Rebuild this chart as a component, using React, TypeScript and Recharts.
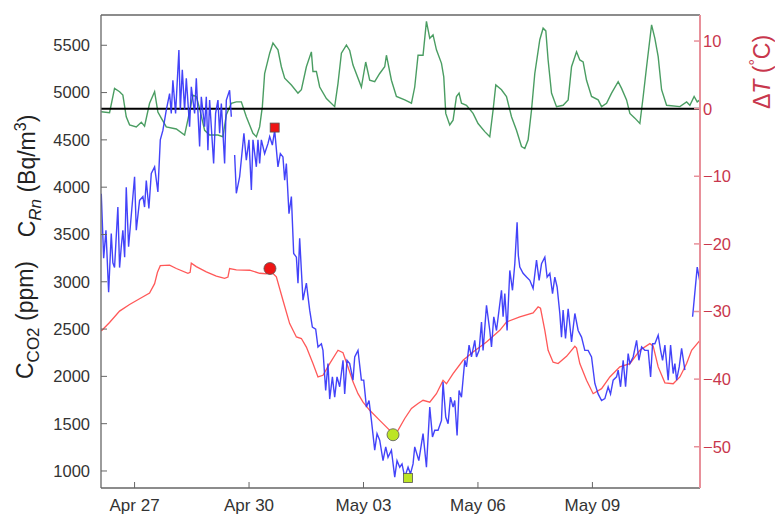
import React from "react";
import { ComposedChart, Line, XAxis, YAxis, ReferenceLine, ReferenceDot } from "recharts";

const FONT = '"Liberation Sans", Arial, Helvetica, sans-serif';

// x values are days counted from Apr 26 00:00
const dateTicks = [1, 4, 7, 10, 13];
const dateLabels = ["Apr 27", "Apr 30", "May 03", "May 06", "May 09"];
const concTicks = [1000, 1500, 2000, 2500, 3000, 3500, 4000, 4500, 5000, 5500];
const dtTicks = [-50, -40, -30, -20, -10, 0, 10];

// radon concentration C_Rn (Bq/m3), null = gap in record
const radon: [number, number | null][] = [
  [0.127, 3930], [0.19, 3250], [0.25, 3545], [0.32, 2890], [0.389, 3510], [0.431, 3200], [0.475, 3150],
  [0.562, 3790], [0.607, 3150], [0.651, 3370], [0.693, 3545], [0.74, 3260], [0.782, 4000], [0.843, 3370],
  [1.0, 4110], [1.045, 3545], [1.131, 3860], [1.218, 3900], [1.262, 3790], [1.307, 4070], [1.375, 3775],
  [1.438, 4145], [1.525, 4215], [1.611, 3950], [1.674, 4500], [1.742, 4600], [1.831, 4815], [1.918, 4990],
  [1.962, 4780], [2.004, 5130], [2.075, 4780], [2.162, 5450], [2.199, 4815], [2.251, 5240], [2.311, 4815],
  [2.356, 5150], [2.442, 4640], [2.487, 5060], [2.574, 4780], [2.618, 5150], [2.705, 4430], [2.749, 4955],
  [2.836, 4640], [2.88, 4955], [2.922, 4390], [2.967, 4920], [3.072, 4250], [3.124, 4780], [3.185, 4920],
  [3.229, 4570], [3.274, 4885], [3.36, 4250], [3.405, 4920], [3.491, 5025], [3.536, 4745], [3.58, null],
  [3.623, 4340], [3.667, 3935], [3.754, 4110], [3.866, 4570], [3.929, 4285], [3.998, 4500], [4.061, 3970],
  [4.103, 4500], [4.192, 4215], [4.234, 4500], [4.278, 4250], [4.323, 4500], [4.409, 4355], [4.496, 4460],
  [4.541, 4535], [4.611, 4445], [4.672, 4600], [4.758, 4215], [4.821, 4355], [4.889, 4320], [4.934, 4075],
  [4.978, 4250], [5.047, 3720], [5.11, 3900], [5.17, 3300], [5.241, 3260], [5.283, 2985], [5.327, 3460],
  [5.372, 3120], [5.414, 2805], [5.503, 2985], [5.59, 2700], [5.66, 2520], [5.747, 2500], [5.807, 2310],
  [5.896, 2345], [5.938, 2275], [6.009, 1850], [6.069, 2135], [6.114, 1760], [6.185, 1995], [6.245, 1780],
  [6.306, 1995], [6.376, 1890], [6.463, 2170], [6.507, 1815], [6.568, 2170], [6.639, 2135], [6.725, 1960],
  [6.77, 2205], [6.856, 2275], [6.945, 1960], [7.006, 1960], [7.077, 1675], [7.145, 1745], [7.208, 1535],
  [7.294, 1220], [7.355, 1395], [7.425, 1325], [7.512, 1110], [7.583, 1255], [7.643, 1145], [7.732, 1220],
  [7.819, 935], [7.879, 1110], [7.95, 1040], [8.01, 1075], [8.081, 935], [8.168, 1040], [8.231, 970],
  [8.299, 1075], [8.343, 1255], [8.45, 1110], [8.561, 1395], [8.65, 1040], [8.737, 1675], [8.808, 1360],
  [8.868, 1430], [8.954, 1430], [9.044, 1535], [9.085, 1940], [9.156, 1570], [9.217, 1500], [9.28, 1780],
  [9.348, 1675], [9.392, 1745], [9.453, 1375], [9.505, 1850], [9.568, 1780], [9.655, 2170], [9.699, 2100],
  [9.767, 2330], [9.83, 2205], [9.917, 2380], [9.961, 2205], [10.03, 2275], [10.093, 2575], [10.134, 2275],
  [10.224, 2750], [10.31, 2485], [10.355, 2310], [10.415, 2630], [10.486, 2485], [10.617, 2910],
  [10.659, 2630], [10.704, 2875], [10.764, 2485], [10.835, 3120], [10.905, 2910], [10.966, 3190],
  [11.026, 3630], [11.058, 3280], [11.097, 3155], [11.183, 3090], [11.273, 3050], [11.359, 3015],
  [11.446, 2930], [11.535, 3230], [11.603, 3015], [11.666, 3190], [11.753, 3260], [11.813, 3050],
  [11.884, 3090], [11.955, 2875], [12.015, 3050], [12.075, 2945], [12.146, 2665], [12.19, 2415],
  [12.232, 2700], [12.295, 2400], [12.364, 2715], [12.453, 2365], [12.54, 2665], [12.626, 2485],
  [12.715, 2415], [12.801, 2275], [12.888, 2275], [12.977, 2205], [13.064, 1925], [13.15, 1815],
  [13.24, 1745], [13.326, 1765], [13.413, 1890], [13.475, 1815], [13.544, 1960], [13.633, 1995],
  [13.675, 2065], [13.738, 1890], [13.806, 2170], [13.869, 1890], [13.937, 2240], [13.982, 2135],
  [14.068, 2205], [14.158, 2380], [14.218, 2170], [14.289, 2310], [14.375, 2275], [14.462, 2275],
  [14.525, 1995], [14.577, 2345], [14.637, 2345], [14.724, 2435], [14.787, 2275], [14.839, 2170],
  [14.9, 2330], [14.986, 1960], [15.049, 2330], [15.117, 2030], [15.162, 2135], [15.207, 1960],
  [15.275, 2100], [15.338, 2295], [15.424, 2065], [15.52, null], [15.626, 2630], [15.747, 3155], [15.818, 3000],
];

// CO2 concentration C_CO2 (ppm)
const co2: [number, number][] = [
  [0.127, 2480], [0.344, 2570], [0.607, 2690], [0.869, 2760], [1.131, 2820], [1.393, 2880], [1.525, 2980],
  [1.6, 3100], [1.674, 3170], [1.918, 3175], [2.094, 3140], [2.398, 3090], [2.456, 3100], [2.487, 3196],
  [2.618, 3160], [2.88, 3105], [3.143, 3060], [3.36, 3036], [3.447, 3050], [3.491, 3140], [3.667, 3125],
  [4.016, 3122], [4.278, 3090], [4.454, 3085], [4.548, 3120], [4.716, 3052], [4.889, 2805], [5.065, 2558],
  [5.241, 2417], [5.372, 2400], [5.503, 2310], [5.676, 2135], [5.807, 1994], [5.938, 2011], [6.114, 2135],
  [6.332, 2276], [6.463, 2250], [6.594, 2100], [6.725, 1942], [6.856, 1817], [6.988, 1727], [7.163, 1641],
  [7.425, 1535], [7.688, 1429], [7.774, 1383], [7.905, 1429], [8.081, 1555], [8.257, 1661], [8.43, 1714],
  [8.561, 1747], [8.737, 1727], [8.912, 1817], [9.085, 1958], [9.175, 1922], [9.348, 2029], [9.61, 2170],
  [9.872, 2258], [10.224, 2364], [10.572, 2487], [10.748, 2575], [11.097, 2628], [11.446, 2670],
  [11.577, 2734], [11.64, 2720], [11.753, 2487], [11.839, 2276], [11.97, 2150], [12.101, 2135],
  [12.322, 2212], [12.54, 2318], [12.584, 2300], [12.67, 2135], [12.846, 1958], [13.019, 1817],
  [13.24, 1870], [13.457, 1994], [13.719, 2100], [13.982, 2135], [14.244, 2276], [14.506, 2346],
  [14.593, 2320], [14.724, 2100], [14.9, 1932], [15.117, 1922], [15.293, 1994], [15.469, 2135],
  [15.6, 2276], [15.818, 2381],
];

// temperature difference dT (C)
const deltaT: [number, number][] = [
  [0.127, -0.45], [0.344, -0.6], [0.475, 3.0], [0.607, 2.5], [0.693, 2.0], [0.782, -1.2], [0.869, -2.4],
  [1.045, -2.7], [1.176, -2.0], [1.262, -2.6], [1.393, 0.8], [1.525, 2.5], [1.611, -0.5], [1.7, -1.4],
  [1.831, -2.7], [2.094, -3.0], [2.311, -3.9], [2.442, -0.45], [2.529, 2.0], [2.618, 1.8], [2.705, 0.0],
  [2.836, -3.2], [2.967, -3.9], [3.185, -3.9], [3.316, -4.15], [3.405, -0.9], [3.536, 0.8], [3.667, 1.0],
  [3.798, 1.0], [3.929, -1.2], [4.103, -3.65], [4.192, -4.15], [4.278, -2.7], [4.349, 0.3], [4.409, 5.2],
  [4.541, 8.2], [4.627, 9.7], [4.758, 8.7], [4.847, 6.2], [4.934, 4.5], [5.11, 3.5], [5.283, 2.3],
  [5.372, 2.8], [5.503, 6.2], [5.634, 8.4], [5.676, 5.5], [5.765, 5.5], [5.852, 3.2], [6.028, 1.5],
  [6.245, 0.3], [6.332, 3.75], [6.421, 8.2], [6.552, 9.4], [6.639, 8.6], [6.725, 6.45], [6.945, 3.2],
  [7.058, 6.9], [7.163, 4.2], [7.294, 4.0], [7.425, 5.2], [7.556, 6.2], [7.601, 7.9], [7.732, 4.2],
  [7.863, 1.8], [8.081, 1.3], [8.257, 0.8], [8.343, 3.2], [8.43, 7.9], [8.561, 7.9], [8.65, 12.9],
  [8.737, 10.4], [8.823, 10.9], [8.912, 8.7], [9.044, 6.7], [9.104, 4.7], [9.156, -0.7], [9.261, -2.4],
  [9.348, -1.7], [9.437, 1.8], [9.505, 2.3], [9.568, 0.8], [9.699, 0.5], [9.872, -0.7], [10.003, -2.2],
  [10.179, -3.4], [10.31, -4.15], [10.397, -0.2], [10.468, 3.5], [10.617, 2.8], [10.748, 1.8],
  [10.879, -1.2], [11.01, -3.2], [11.142, -5.6], [11.228, -5.9], [11.315, -4.6], [11.404, -0.2],
  [11.49, 5.2], [11.621, 10.2], [11.708, 11.9], [11.779, 11.5], [11.839, 7.2], [11.928, 2.3],
  [12.059, 0.3], [12.233, 0.5], [12.364, 1.3], [12.453, 6.2], [12.584, 8.4], [12.67, 7.2], [12.757, 6.9],
  [12.846, 4.2], [12.977, 1.8], [13.15, 1.3], [13.24, 0.3], [13.371, 0.8], [13.502, 2.3], [13.675, 4.0],
  [13.764, 3.0], [13.895, 1.3], [13.982, -0.7], [14.113, -1.4], [14.244, -2.2], [14.331, 1.8],
  [14.42, 6.2], [14.551, 12.4], [14.637, 10.4], [14.724, 7.7], [14.813, 2.8], [14.944, 0.5],
  [15.293, 0.3], [15.469, 1.0], [15.555, 0.5], [15.666, 1.8], [15.747, 1.0], [15.818, 1.3],
];

// highlighted points: [day, value]
const radonMarks: [number, number][] = [[4.672, 4630], [8.168, 925]];
const co2Marks: [number, number][] = [[4.548, 3140], [7.774, 1383]];
const markColors = ["#ee1515", "#bde524"];

const toRows = (arr: [number, number | null][]) => arr.map(([d, v]) => ({ d, v }));

const fmtDate = (v: number) => {
  const i = dateTicks.indexOf(v);
  return i >= 0 ? dateLabels[i] : "";
};
const fmtDt = (v: number) => (v < 0 ? "\u2212" + Math.abs(v) : String(v));

const Square = (fill: string) => (p: any) => (
  <rect x={p.cx - 4.5} y={p.cy - 4.5} width={9} height={9} fill={fill} stroke="#555" strokeWidth={0.8} />
);

export default function App() {
  const gray = "#666";
  const red = "#c8374d";
  return (
    <div style={{ position: "absolute", left: 0, top: 0, width: 775, height: 517, background: "#fff", fontFamily: FONT }}>
      <ComposedChart width={775} height={517} margin={{ top: 0, right: 0, bottom: 0, left: 0 }}>
        <XAxis
          xAxisId="b"
          type="number"
          dataKey="d"
          domain={[0.12, 15.82]}
          allowDataOverflow
          ticks={dateTicks}
          interval={0}
          tickFormatter={fmtDate}
          height={29}
          tickSize={-6}
          tickMargin={17}
          axisLine={{ stroke: gray, strokeWidth: 1.3 }}
          tickLine={{ stroke: gray }}
          tick={{ fill: "#333", fontSize: 17, fontFamily: FONT }}
        />
        <XAxis
          xAxisId="t"
          orientation="top"
          type="number"
          dataKey="d"
          domain={[0.12, 15.82]}
          allowDataOverflow
          ticks={dateTicks}
          interval={0}
          height={15}
          tick={false}
          tickSize={-6}
          axisLine={{ stroke: gray, strokeWidth: 1.3 }}
          tickLine={{ stroke: gray }}
        />
        <YAxis
          yAxisId="l"
          type="number"
          domain={[820, 5820]}
          allowDataOverflow
          ticks={concTicks}
          interval={0}
          width={101}
          tickSize={-6}
          tickMargin={17}
          axisLine={{ stroke: gray, strokeWidth: 1.3 }}
          tickLine={{ stroke: gray }}
          tick={{ fill: "#333", fontSize: 16.5, fontFamily: FONT }}
        />
        <YAxis
          yAxisId="r"
          orientation="right"
          type="number"
          domain={[-56.1, 13.85]}
          allowDataOverflow
          ticks={dtTicks}
          interval={0}
          width={75}
          tickSize={-6}
          tickMargin={9}
          tickFormatter={fmtDt}
          axisLine={{ stroke: "#e8909a", strokeWidth: 2 }}
          tickLine={{ stroke: "#e8909a", strokeWidth: 1.5 }}
          tick={{ fill: red, fontSize: 16.5, fontFamily: FONT }}
        />
        <Line
          xAxisId="b"
          yAxisId="r"
          data={toRows(deltaT)}
          dataKey="v"
          type="linear"
          stroke="#2a8c46"
          strokeOpacity={0.85}
          strokeWidth={1.4}
          dot={false}
          activeDot={false}
          isAnimationActive={false}
        />
        <ReferenceLine xAxisId="b" yAxisId="r" y={0} stroke="#000" strokeWidth={2} />
        <Line
          xAxisId="b"
          yAxisId="l"
          data={toRows(co2)}
          dataKey="v"
          type="linear"
          stroke="#ff4646"
          strokeOpacity={0.9}
          strokeWidth={1.3}
          dot={false}
          activeDot={false}
          isAnimationActive={false}
        />
        <Line
          xAxisId="b"
          yAxisId="l"
          data={toRows(radon)}
          dataKey="v"
          type="linear"
          stroke="#2f2ff8"
          strokeOpacity={0.9}
          strokeWidth={1.4}
          dot={false}
          activeDot={false}
          isAnimationActive={false}
        />
        {radonMarks.map(([d, v], i) => (
          <ReferenceDot key={"rs" + i} xAxisId="b" yAxisId="l" x={d} y={v} r={5} shape={Square(markColors[i])} />
        ))}
        {co2Marks.map(([d, v], i) => (
          <ReferenceDot
            key={"cc" + i}
            xAxisId="b"
            yAxisId="l"
            x={d}
            y={v}
            r={6}
            fill={markColors[i]}
            stroke="#555"
            strokeWidth={0.8}
          />
        ))}
      </ComposedChart>
      <svg width={775} height={517} style={{ position: "absolute", left: 0, top: 0, pointerEvents: "none" }}>
        <text transform="translate(35,176) rotate(-90)" textAnchor="middle" fontSize={23} fill="#222" fontFamily={FONT}>
          C
          <tspan fontSize={17} dy={6} fontStyle="italic">Rn</tspan>
          <tspan dy={-6}> (Bq/m</tspan>
          <tspan fontSize={16} dy={-9}>3</tspan>
          <tspan dy={9}>)</tspan>
        </text>
        <text transform="translate(33,320) rotate(-90)" textAnchor="middle" fontSize={23} fill="#222" fontFamily={FONT}>
          C
          <tspan fontSize={17} dy={6}>CO2</tspan>
          <tspan dy={-6}> (ppm)</tspan>
        </text>
        <text transform="translate(770,72) rotate(-90)" textAnchor="middle" fontSize={23} fill={red} fontFamily={FONT}>
          Δ<tspan fontStyle="italic">T</tspan> (
          <tspan fontSize={16} dy={-9}>°</tspan>
          <tspan dy={9}>C)</tspan>
        </text>
      </svg>
    </div>
  );
}
